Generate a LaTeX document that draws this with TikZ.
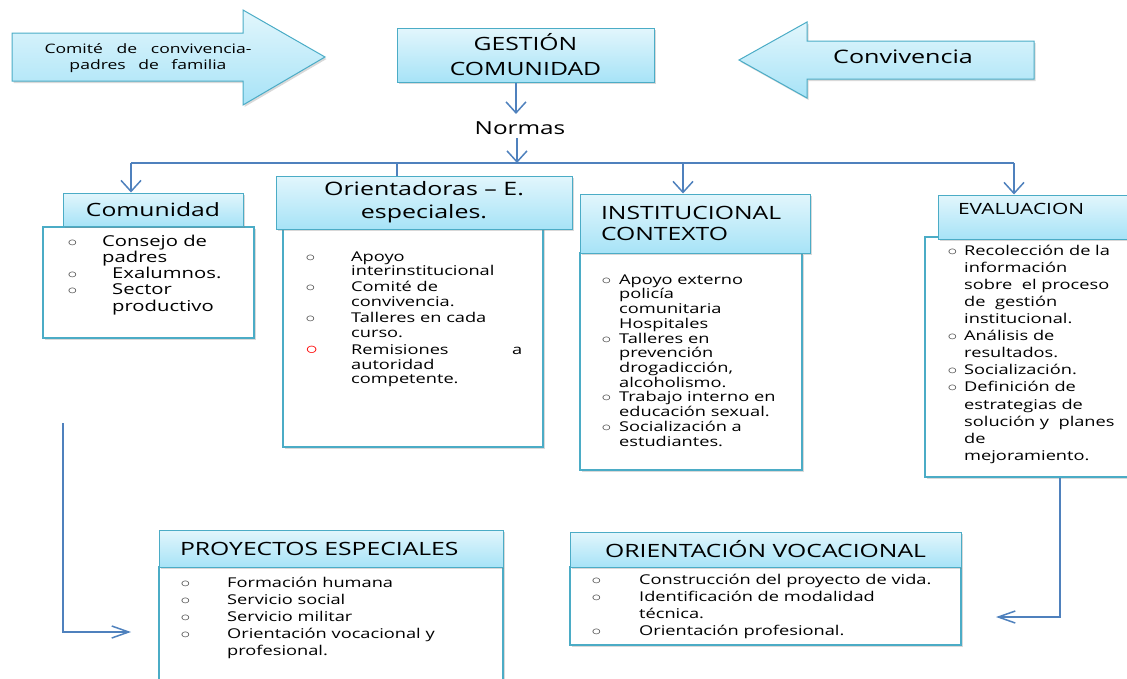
\documentclass[tikz,border=0pt]{standalone}
\usepackage{fontspec}
\usepackage{graphicx}
\setmainfont[FakeStretch=1.35]{Open Sans}
\usetikzlibrary{arrows.meta,shadows}

\definecolor{borde}{HTML}{4BACC6}
\definecolor{celesteA}{HTML}{E2F6FC}
\definecolor{celesteB}{HTML}{A7E3F7}
\definecolor{azul}{HTML}{4F81BD}
\definecolor{vineta}{HTML}{404040}
\newcommand{\vin}{\textcolor{vineta}{\scalebox{1.35}[1]{$\circ$}}}
\newcommand{\vinroja}{\textcolor{red}{\scalebox{1.7}[1.3]{$\circ$}}}

\begin{document}
\begin{tikzpicture}[x=1pt,y=-1pt,
  sombra/.style={drop shadow={opacity=.3,shadow xshift=1.5pt,shadow yshift=-2pt}},
  cab/.style={draw=borde,line width=1pt,top color=celesteA,bottom color=celesteB,inner sep=0pt,sombra,font=\fontsize{18.3}{23}\selectfont,align=center},
  caja/.style={draw=borde,line width=1.2pt,fill=white,inner sep=0pt,sombra},
  flechagrande/.style={draw=borde,line width=1pt,top color=celesteA,bottom color=celesteB,sombra},
  lista/.style={anchor=north west,inner sep=0pt},
  linea/.style={draw=azul,line width=1.5pt},
  flecha/.style={linea,-{Straight Barb[length=11pt,width=20pt]}},
  flechah/.style={linea,-{Straight Barb[length=17pt,width=12pt]}}]

  \useasboundingbox (0,0) rectangle (1127,678);
  \clip (0,0) rectangle (1127,678);

  \draw[flechagrande] (12,33) -- (243,33) -- (243,10) -- (325,57) -- (243,105) -- (243,81) -- (12,81) -- cycle;
  \node[font=\fontsize{13}{16}\selectfont,align=center] (comite) at (148,58) {\makebox[207pt][s]{Comité de convivencia-}\\\makebox[157pt][s]{padres de familia}};

  \draw[flechagrande] (1034,41) -- (807,41) -- (807,22) -- (739,60) -- (807,98) -- (807,79) -- (1034,79) -- cycle;
  \node[font=\fontsize{18.6}{22}\selectfont] (conv) at (903,57) {Convivencia};

  \node[cab,minimum width=257pt,minimum height=54pt,font=\fontsize{18.3}{25}\selectfont] (gestion) at (525.5,55) {GESTIÓN\\COMUNIDAD};
  \node[font=\fontsize{18}{22}\selectfont] (normas) at (520,128) {Normas};

  \coordinate (bc) at (517,163);
  \coordinate (b1) at (131,163);
  \coordinate (b2) at (397,163);
  \coordinate (b3) at (683,163);
  \coordinate (b4) at (1014,163);

  \node[caja,minimum width=211pt,minimum height=111pt] (comunidadbox) at (148.5,282.5) {};
  \node[caja,minimum width=260pt,minimum height=220pt] (orientbox) at (413,337) {};
  \node[caja,minimum width=222pt,minimum height=217pt] (instbox) at (691,361.5) {};
  \node[caja,minimum width=215pt,minimum height=240pt] (evalbox) at (1032.5,357) {};
  \node[caja,minimum width=344pt,minimum height=133pt] (proybox) at (331,633.5) {};
  \node[caja,minimum width=391pt,minimum height=78pt] (orvocbox) at (765.5,606) {};

  \node[cab,minimum width=180pt,minimum height=33pt] (comunidad) at (153,209.5) {Comunidad};
  \node[cab,minimum width=296pt,minimum height=53pt,font=\fontsize{18.5}{23}\selectfont] (orient) at (424,202.5) {Orientadoras – E.\\especiales.};
  \node[cab,minimum width=230pt,minimum height=59pt,text width=188pt,align=left,font=\fontsize{18.3}{21}\selectfont] (inst) at (695,223.5) {INSTITUCIONAL\\CONTEXTO};
  \node[cab,minimum width=202pt,minimum height=44pt,text width=162pt,align=left,font=\fontsize{15.5}{18}\selectfont,text height=11pt,text depth=17pt] (eval) at (1039,217) {EVALUACION};
  \node[cab,minimum width=344pt,minimum height=37pt,text width=302pt,align=left] (proy) at (331,548.5) {PROYECTOS ESPECIALES};
  \node[cab,minimum width=391pt,minimum height=35pt] (orvoc) at (765.5,549.5) {ORIENTACIÓN VOCACIONAL};

  \node[lista,font=\fontsize{15}{16}\selectfont] (comtxt) at (67.5,235) {\begin{tabular}{@{}p{34.5pt}@{}l@{}}
    \vin & Consejo de\\ & padres\\
    \vin & \hspace{10pt}Exalumnos.\\
    \vin & \hspace{10pt}Sector\\ & \hspace{10pt}productivo
  \end{tabular}};

  \node[lista,font=\fontsize{13.5}{14.5}\selectfont] (orienttxt) at (305.5,250.8) {\begin{tabular}{@{}p{45.5pt}@{}l@{}}
    \vin & Apoyo\\ & interinstitucional\\[1.5pt]
    \vin & Comité de\\ & convivencia.\\[1.5pt]
    \vin & Talleres en cada\\ & curso.\\[3pt]
    \vinroja & \makebox[171pt][l]{Remisiones\hfill a}\\ & autoridad\\ & competente.
  \end{tabular}};

  \node[lista,font=\fontsize{13.5}{14.7}\selectfont] (insttxt) at (601.5,273.7) {\begin{tabular}{@{}p{17.5pt}@{}l@{}}
    \vin & Apoyo externo\\ & policía\\ & comunitaria\\ & Hospitales\\
    \vin & Talleres en\\ & prevención\\ & drogadicción,\\ & alcoholismo.\\
    \vin & Trabajo interno en\\ & educación sexual.\\
    \vin & Socialización a\\ & estudiantes.
  \end{tabular}};

  \node[lista,font=\fontsize{13.5}{17.1}\selectfont] (evaltxt) at (947.5,243) {\begin{tabular}{@{}p{16.5pt}@{}l@{}}
    \vin & Recolección de la\\ & información\\ & sobre\ \ el proceso\\ & de\ \ gestión\\ & institucional.\\
    \vin & Análisis de\\ & resultados.\\
    \vin & Socialización.\\
    \vin & Definición de\\ & estrategias de\\ & solución y\ \ planes\\ & de\\ & mejoramiento.
  \end{tabular}};

  \node[lista,font=\fontsize{13.5}{17}\selectfont] (proytxt) at (180.5,575.1) {\begin{tabular}{@{}p{46.5pt}@{}l@{}}
    \vin & Formación humana\\
    \vin & Servicio social\\
    \vin & Servicio militar\\
    \vin & Orientación vocacional y\\ & profesional.
  \end{tabular}};

  \node[lista,font=\fontsize{13.5}{17}\selectfont] (orvoctxt) at (591.5,572.1) {\begin{tabular}{@{}p{47.5pt}@{}l@{}}
    \vin & Construcción del proyecto de vida.\\
    \vin & Identificación de modalidad\\ & técnica.\\
    \vin & Orientación profesional.
  \end{tabular}};

  \draw[flecha,shorten >=4pt] ([xshift=-9.5pt]gestion.south) -- ([xshift=-9.5pt]gestion.south |- normas.north);
  \draw[flecha] (normas.south -| bc) -- (bc);
  \draw[linea] (b1) -- (b4);
  \draw[flecha] (b1) -- (b1 |- comunidad.north);
  \draw[linea] (b2) -- (b2 |- orient.north);
  \draw[flecha] (b3) -- (b3 |- inst.north);
  \draw[flecha] (b4) -- (b4 |- eval.north);

  \coordinate (izq) at (63,423);
  \coordinate (izqfin) at (131,632);
  \draw[flechah] (izq) |- (izqfin);

  \coordinate (dcha) at (1060,617);
  \coordinate (dchafin) at (996,617);
  \draw[flechah] (evalbox.south -| dcha) -- (dcha) -- (dchafin);
\end{tikzpicture}
\end{document}
